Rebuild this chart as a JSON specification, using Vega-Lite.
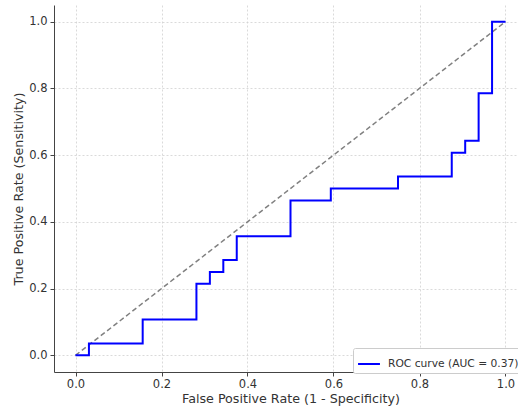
{
  "$schema": "https://vega.github.io/schema/vega-lite/v6.json",
  "autosize": {"type": "none"},
  "width": 473,
  "height": 367,
  "padding": {"left": 54, "top": 5, "right": 0, "bottom": 39},
  "background": "white",
  "config": {
    "view": {"stroke": null},
    "font": "DejaVu Sans",
    "axis": {
      "labelFont": "DejaVu Sans",
      "titleFont": "DejaVu Sans",
      "labelFontSize": 11.5,
      "titleFontSize": 12.7,
      "titleFontWeight": "normal",
      "labelColor": "#333333",
      "titleColor": "#333333",
      "domainColor": "#444444",
      "tickColor": "#444444",
      "tickSize": 4,
      "gridColor": "#d0d0d0",
      "gridDash": [2, 2],
      "gridWidth": 0.8
    }
  },
  "datasets": {
    "roc": [
      {"i": 0, "fpr": 0, "tpr": 0, "series": "ROC curve (AUC = 0.37)"},
      {"i": 1, "fpr": 0.03125, "tpr": 0, "series": "ROC curve (AUC = 0.37)"},
      {"i": 2, "fpr": 0.03125, "tpr": 0.0357, "series": "ROC curve (AUC = 0.37)"},
      {"i": 3, "fpr": 0.15625, "tpr": 0.0357, "series": "ROC curve (AUC = 0.37)"},
      {"i": 4, "fpr": 0.15625, "tpr": 0.1071, "series": "ROC curve (AUC = 0.37)"},
      {"i": 5, "fpr": 0.28125, "tpr": 0.1071, "series": "ROC curve (AUC = 0.37)"},
      {"i": 6, "fpr": 0.28125, "tpr": 0.2143, "series": "ROC curve (AUC = 0.37)"},
      {"i": 7, "fpr": 0.3125, "tpr": 0.2143, "series": "ROC curve (AUC = 0.37)"},
      {"i": 8, "fpr": 0.3125, "tpr": 0.25, "series": "ROC curve (AUC = 0.37)"},
      {"i": 9, "fpr": 0.34375, "tpr": 0.25, "series": "ROC curve (AUC = 0.37)"},
      {"i": 10, "fpr": 0.34375, "tpr": 0.2857, "series": "ROC curve (AUC = 0.37)"},
      {"i": 11, "fpr": 0.375, "tpr": 0.2857, "series": "ROC curve (AUC = 0.37)"},
      {"i": 12, "fpr": 0.375, "tpr": 0.3571, "series": "ROC curve (AUC = 0.37)"},
      {"i": 13, "fpr": 0.5, "tpr": 0.3571, "series": "ROC curve (AUC = 0.37)"},
      {"i": 14, "fpr": 0.5, "tpr": 0.4643, "series": "ROC curve (AUC = 0.37)"},
      {"i": 15, "fpr": 0.59375, "tpr": 0.4643, "series": "ROC curve (AUC = 0.37)"},
      {"i": 16, "fpr": 0.59375, "tpr": 0.5, "series": "ROC curve (AUC = 0.37)"},
      {"i": 17, "fpr": 0.75, "tpr": 0.5, "series": "ROC curve (AUC = 0.37)"},
      {"i": 18, "fpr": 0.75, "tpr": 0.5357, "series": "ROC curve (AUC = 0.37)"},
      {"i": 19, "fpr": 0.875, "tpr": 0.5357, "series": "ROC curve (AUC = 0.37)"},
      {"i": 20, "fpr": 0.875, "tpr": 0.6071, "series": "ROC curve (AUC = 0.37)"},
      {"i": 21, "fpr": 0.90625, "tpr": 0.6071, "series": "ROC curve (AUC = 0.37)"},
      {"i": 22, "fpr": 0.90625, "tpr": 0.6429, "series": "ROC curve (AUC = 0.37)"},
      {"i": 23, "fpr": 0.9375, "tpr": 0.6429, "series": "ROC curve (AUC = 0.37)"},
      {"i": 24, "fpr": 0.9375, "tpr": 0.7857, "series": "ROC curve (AUC = 0.37)"},
      {"i": 25, "fpr": 0.96875, "tpr": 0.7857, "series": "ROC curve (AUC = 0.37)"},
      {"i": 26, "fpr": 0.96875, "tpr": 1, "series": "ROC curve (AUC = 0.37)"},
      {"i": 27, "fpr": 1, "tpr": 1, "series": "ROC curve (AUC = 0.37)"}
    ],
    "diag": [
      {"i": 0, "fpr": 0, "tpr": 0},
      {"i": 1, "fpr": 1, "tpr": 1}
    ]
  },
  "layer": [
    {
      "data": {"name": "diag"},
      "mark": {"type": "line", "color": "#808080", "strokeWidth": 1.5, "strokeDash": [5, 3]},
      "encoding": {
        "x": {
          "field": "fpr", "type": "quantitative",
          "scale": {"domain": [-0.05, 1.05], "nice": false, "zero": false},
          "axis": {"title": "False Positive Rate (1 - Specificity)", "values": [0, 0.2, 0.4, 0.6, 0.8, 1.0], "format": ".1f", "grid": true, "labelPadding": 2, "titlePadding": 3}
        },
        "y": {
          "field": "tpr", "type": "quantitative",
          "scale": {"domain": [-0.05, 1.05], "nice": false, "zero": false},
          "axis": {"title": "True Positive Rate (Sensitivity)", "values": [0, 0.2, 0.4, 0.6, 0.8, 1.0], "format": ".1f", "grid": true, "labelPadding": 3, "titlePadding": 3}
        },
        "order": {"field": "i", "type": "quantitative"}
      }
    },
    {
      "data": {"name": "roc"},
      "mark": {"type": "line", "strokeWidth": 2},
      "encoding": {
        "x": {"field": "fpr", "type": "quantitative"},
        "y": {"field": "tpr", "type": "quantitative"},
        "order": {"field": "i", "type": "quantitative"},
        "color": {
          "field": "series", "type": "nominal",
          "scale": {"domain": ["ROC curve (AUC = 0.37)"], "range": ["#0000ff"]},
          "legend": {
            "title": null,
            "orient": "none",
            "legendX": 299,
            "legendY": 343,
            "symbolType": "stroke",
            "symbolSize": 480,
            "symbolStrokeWidth": 2,
            "labelFontSize": 10.7,
            "labelFont": "DejaVu Sans",
            "labelColor": "#333333",
            "fillColor": "white",
            "strokeColor": "#cccccc",
            "padding": 4,
            "cornerRadius": 2,
            "labelOffset": 7
          }
        }
      }
    }
  ]
}
